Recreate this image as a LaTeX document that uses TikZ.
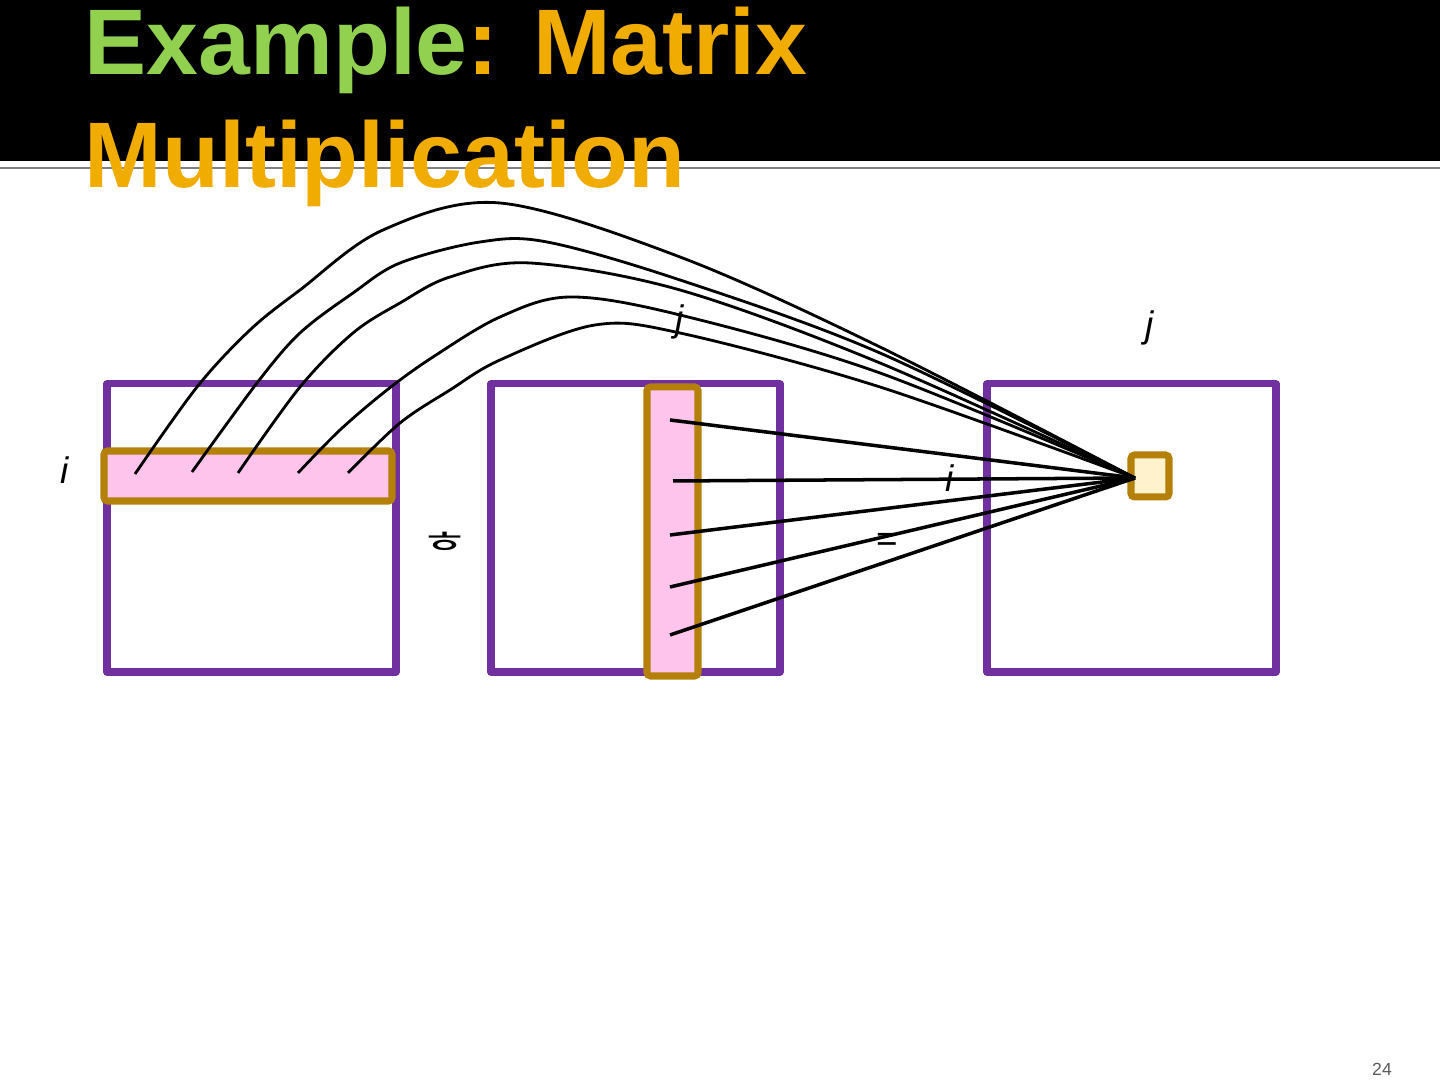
\documentclass[tikz,border=0pt]{standalone}
\usepackage{fontspec}
\setmainfont{Liberation Sans}
\newfontfamily\krfont{Noto Sans CJK KR}
\usepackage{tikz}
\usetikzlibrary{calc}

\definecolor{matpurple}{RGB}{112,48,160}
\definecolor{hlgold}{RGB}{180,128,10}
\definecolor{hlpink}{RGB}{255,196,236}
\definecolor{cellfill}{RGB}{255,242,204}
\definecolor{titlegreen}{RGB}{146,208,80}
\definecolor{titlegold}{RGB}{240,172,0}

\begin{document}
\begin{tikzpicture}[
    matbox/.style={draw=matpurple, line width=2pt, line join=round},
    hlbox/.style={draw=hlgold, fill=hlpink, line width=2pt, rounded corners=1pt},
    wire/.style={line width=1pt},
    lbl/.style={font=\fontsize{10.5}{12}\selectfont\itshape, inner sep=0pt}]
    \useasboundingbox (0,0) rectangle (14.4,10.8);

    % 标题栏
    \fill[black] (0,9.19) rectangle (14.4,10.8);
    \draw[gray, line width=0.6pt] (0,9.12) -- (14.4,9.12);

    % 三个矩阵
    \draw[matbox] (1.07,4.08) rectangle (3.96,6.96);
    \draw[matbox] (4.91,4.08) rectangle (7.80,6.96);
    \draw[matbox] (9.87,4.08) rectangle (12.76,6.96);

    % 第 i 行, 第 j 列, 结果元素
    \draw[hlbox] (1.04,5.79) rectangle (3.92,6.29);
    \draw[hlbox] (6.47,4.04) rectangle (6.98,6.93);
    \draw[hlbox, fill=cellfill] (11.31,5.83) rectangle (11.69,6.25);

    % 连线端点
    \coordinate (cell) at (11.35,6.02);
    \coordinate (r1) at (1.35,6.06);
    \coordinate (r2) at (1.92,6.08);
    \coordinate (r3) at (2.38,6.07);
    \coordinate (r4) at (2.98,6.07);
    \coordinate (r5) at (3.48,6.07);
    \coordinate (c1) at (6.70,6.60);
    \coordinate (c2) at (6.73,5.99);
    \coordinate (c3) at (6.70,5.45);
    \coordinate (c4) at (6.70,4.93);
    \coordinate (c5) at (6.70,4.45);

    % 行到结果的曲线
    \draw[line width=0.8pt] plot[smooth, tension=0.55] coordinates {(r1) (1.97,6.93) (2.50,7.50) (3.00,7.90) (3.83,8.50) (5.00,8.77) (6.80,8.23) (8.80,7.33) (cell)};
    \draw[line width=0.8pt] plot[smooth, tension=0.55] coordinates {(r2) (2.57,6.97) (3.00,7.47) (3.53,7.87) (4.00,8.17) (4.80,8.38) (5.47,8.38) (6.80,8.00) (8.80,7.27) (cell)};
    \draw[line width=0.8pt] plot[smooth, tension=0.55] coordinates {(r3) (3.00,6.93) (3.53,7.47) (4.00,7.77) (4.50,8.03) (5.30,8.17) (6.80,7.90) (8.80,7.17) (cell)};
    \draw[line width=0.8pt] plot[smooth, tension=0.55] coordinates {(r4) (3.40,6.50) (3.87,6.90) (4.33,7.23) (5.00,7.63) (5.70,7.83) (6.80,7.65) (8.80,7.07) (cell)};
    \draw[line width=0.8pt] plot[smooth, tension=0.55] coordinates {(r5) (4.00,6.57) (4.50,6.90) (5.00,7.20) (5.95,7.55) (6.80,7.47) (8.80,6.93) (cell)};

    % 列到结果的直线
    \foreach \k in {1,...,5} {
        \draw[wire] (c\k) -- (cell);
    }

    % 标注
    \node[lbl] (li) at (0.65,6.10) {i};
    \node[lbl] (lj) at (6.80,7.58) {j};
    \node[lbl] (ri) at (9.50,6.02) {i};
    \node[lbl] (rj) at (11.50,7.52) {j};
    \node[inner sep=0pt, font=\krfont\fontsize{15}{16}\selectfont] (times) at (4.45,5.37) {\scalebox{1}[0.6]{ㅎ}};
    \node[inner sep=0pt, font=\fontsize{10.5}{12}\selectfont] (eq) at (8.87,5.38) {=};
    \node[inner sep=0pt, text=black!65, font=\fontsize{5}{6}\selectfont] (page) at (13.82,0.11) {24};

    % 标题文字
    \node[anchor=base west, inner sep=0pt, font=\fontsize{26.5}{32}\selectfont\bfseries] (title1) at (0.84,10.05) {\textcolor{titlegreen}{Example}\textcolor{titlegold}{: Matrix}};
    \node[anchor=base west, inner sep=0pt, font=\fontsize{26.5}{32}\selectfont\bfseries, text=titlegold] (title2) at (0.84,8.92) {Multiplication};
\end{tikzpicture}
\end{document}
